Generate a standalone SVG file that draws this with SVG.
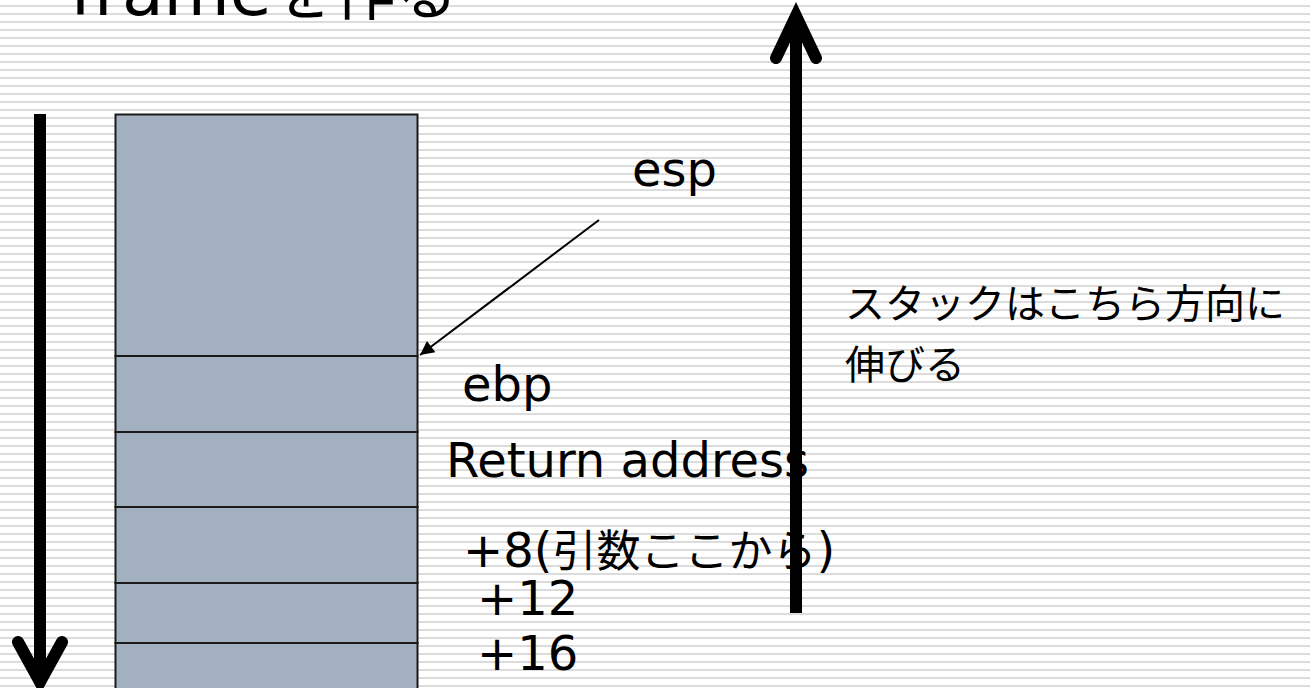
<svg xmlns="http://www.w3.org/2000/svg" width="1310" height="688" viewBox="0 0 1310 688">
  <defs>
    <pattern id="stripes" x="0" y="0" width="8" height="8" patternUnits="userSpaceOnUse">
      <rect x="0" y="5" width="8" height="2" fill="#dcdcdc"/>
    </pattern>
    <marker id="tri" viewBox="0 0 10 10" refX="10" refY="5" markerWidth="10" markerHeight="7" markerUnits="strokeWidth" orient="auto">
      <path d="M0,0 L10,5 L0,10 z" fill="#000"/>
    </marker>
    <style>
      .t { font-family: "DejaVu Sans", "Noto Sans CJK JP", sans-serif; font-size: 48px; fill: #000; }
      .jp { font-family: "Noto Sans CJK JP", sans-serif; }
      .cell { fill: #a2b0bf; stroke: #1a1a1a; stroke-width: 2; }
      .big { fill: none; stroke: #000; stroke-width: 12; stroke-linecap: round; stroke-linejoin: miter; }
      .thin { fill: none; stroke: #000; stroke-width: 2; }
    </style>
  </defs>

  <rect x="0" y="0" width="1310" height="688" fill="#ffffff"/>
  <rect x="0" y="0" width="1310" height="688" fill="url(#stripes)"/>

  <g id="title">
    <text class="t" x="70" y="15" style="font-size:68px">frame<tspan class="jp" style="font-size:62px">を作る</tspan></text>
  </g>

  <g id="stack">
    <rect class="cell" x="115.5" y="114.5" width="302" height="241.5"/>
    <rect class="cell" x="115.5" y="356" width="302" height="76"/>
    <rect class="cell" x="115.5" y="432" width="302" height="75"/>
    <rect class="cell" x="115.5" y="507" width="302" height="76"/>
    <rect class="cell" x="115.5" y="583" width="302" height="60"/>
    <rect class="cell" x="115.5" y="643" width="302" height="60"/>
  </g>

  <g id="label-esp"><text class="t" x="632" y="186">esp</text></g>
  <g id="label-ebp"><text class="t" x="462" y="401">ebp</text></g>
  <g id="label-ret"><text class="t" x="446" y="477">Return address</text></g>
  <g id="label-8"><text class="t" x="463" y="567">+8(<tspan class="jp" style="font-size:44px">引数ここから</tspan>)</text></g>
  <g id="label-12"><text class="t" x="477" y="615">+12</text></g>
  <g id="label-16"><text class="t" x="477" y="670">+16</text></g>
  <g id="label-grow">
    <text class="t jp" style="font-size:40px" x="845" y="318">スタックはこちら方向に</text>
    <text class="t jp" style="font-size:40px" x="845" y="379">伸びる</text>
  </g>

  <g id="connectors">
    <line class="thin" x1="599" y1="220" x2="420" y2="355" marker-end="url(#tri)"/>
    <line class="big" x1="40" y1="114" x2="40" y2="680" style="stroke-linecap:butt"/>
    <polyline class="big" points="18,642 40,682 62,642"/>
    <line class="big" x1="796" y1="613" x2="796" y2="16" style="stroke-linecap:butt"/>
    <polyline class="big" points="776,58 796,16 816,58"/>
  </g>
</svg>
